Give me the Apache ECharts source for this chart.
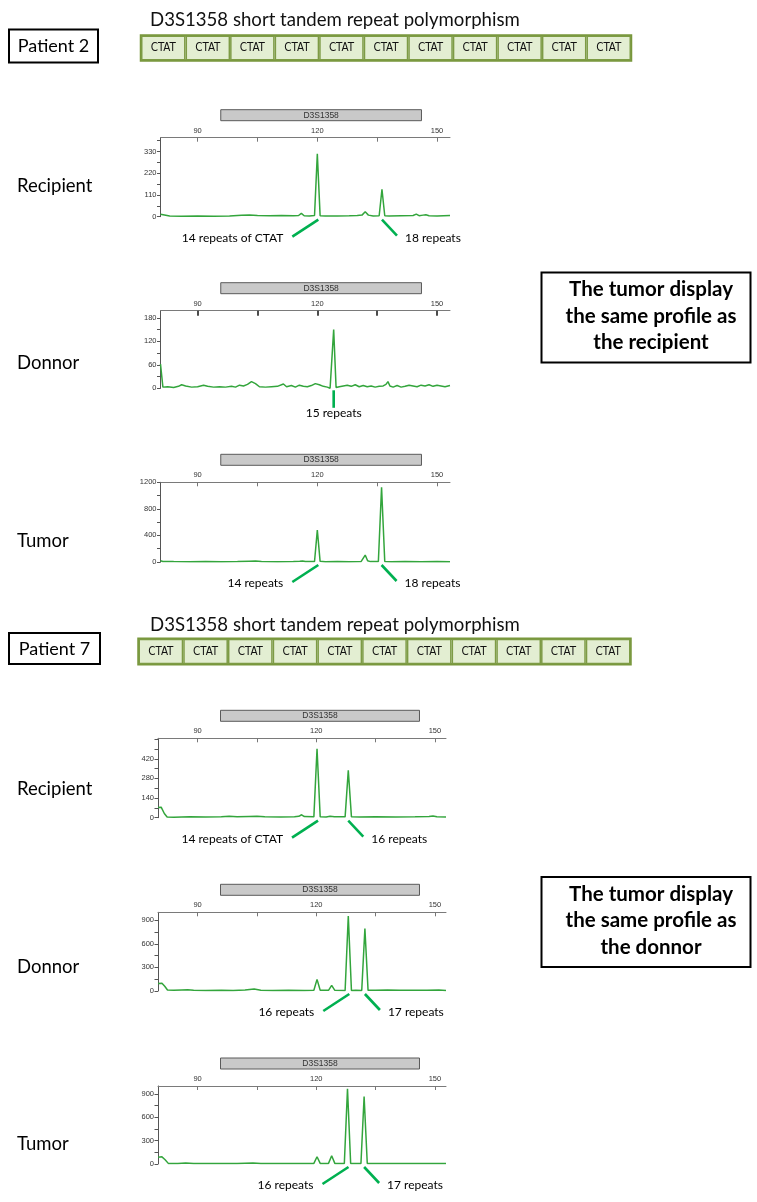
<!DOCTYPE html>
<html>
<head>
<meta charset="utf-8">
<script src="https://cdn.jsdelivr.net/npm/echarts@6/dist/echarts.min.js"></script>
<style>html,body{margin:0;padding:0;background:#fff}#c{width:757px;height:1202px}</style>
</head>
<body>
<div id="c"></div>
<script>
// ---------------- DATA ----------------
const figureTitle = 'D3S1358 short tandem repeat polymorphism';
const patientNames = ['Patient 2', 'Patient 7'];
const sampleNames = ['Recipient', 'Donnor', 'Tumor'];
const repeatUnits = ['CTAT','CTAT','CTAT','CTAT','CTAT','CTAT','CTAT','CTAT','CTAT','CTAT','CTAT'];
const repeatBoxValues = [1,1,1,1,1,1,1,1,1,1,1];
const markerName = 'D3S1358';
const markerRange = [95.8, 146.1];
const sizeLabelTicks = [90, 120, 150];
const sizeAllTicks = [90, 105, 120, 135, 150];
const p2SizeRange = [80.7, 153.25];
const p7SizeRange = [80.0, 152.8];
const conclusionP2 = ['The tumor display', 'the same profile as', 'the recipient'];
const conclusionP7 = ['The tumor display', 'the same profile as', 'the donnor'];

// traces: [size (bp), RFU]
const p2Recipient = [[80.7,12],[81.2,4],[83,3],[86,2],[90,3],[94,2],[98,4],[101,7],[103,9],[105,6],[108,5],[111,6],[114,5],[115.3,6],[116,17],[116.7,5],[118,4],[119.3,6],[120,318],[120.7,5],[122,3],[125,4],[128,5],[130,6],[131.2,8],[132,25],[132.8,8],[134,4],[135.5,5],[136.2,139],[136.9,5],[138,4],[141,5],[144,6],[144.8,13],[145.5,5],[146.5,8],[147.2,10],[148,5],[150,4],[153.25,6]];
const p2Donor = [[80.7,62],[81.3,3],[82.5,4],[84,2],[85.2,5],[86,9],[87,6],[88.5,3],[90,4],[91.5,8],[92.5,5],[94,3],[95.5,4],[97,3],[98.5,5],[99.5,3],[100.5,8],[101.5,6],[102.5,10],[103.5,17],[104.5,12],[105.5,4],[107,3],[108.5,4],[110,5],[111.5,11],[112.3,4],[113.5,7],[114.5,3],[115.5,8],[116.5,5],[117.5,4],[118.5,7],[119.5,12],[120.5,9],[121.5,5],[122.5,3],[123.2,0],[123.6,2],[124.1,150],[124.7,2],[125.5,4],[126.5,6],[127.5,8],[128.5,5],[129.5,9],[130.5,4],[131.5,7],[132.5,4],[133.5,6],[134.5,3],[135.5,5],[136.5,6],[137.2,10],[137.7,17],[138.2,6],[139,3],[140,7],[141,3],[142,5],[143,8],[144,6],[145,4],[146,8],[147,6],[148,9],[149,5],[150,8],[151,6],[152,4],[153.25,7]];
const p2Tumor = [[80.7,20],[81.3,8],[84,6],[88,5],[92,6],[96,5],[100,6],[103,12],[104.5,14],[106,6],[110,5],[114,6],[115.6,10],[116.3,14],[117,6],[119.3,8],[120,482],[120.7,10],[122,5],[125,6],[128,5],[131,8],[131.5,30],[132,105],[132.6,20],[133.3,6],[135.3,8],[136.1,1125],[136.9,8],[138.5,5],[142,6],[146,5],[150,6],[153.25,5]];
const p7Recipient = [[80,72],[80.8,75],[81.6,30],[82.3,5],[84,4],[88,6],[92,5],[96,7],[98,10],[100,6],[103,9],[105,11],[107,6],[111,5],[114.5,6],[115.6,10],[116.3,21],[117,8],[119.4,6],[120.2,491],[121,6],[122.5,5],[123.5,10],[124,16],[124.6,6],[127.3,6],[128.1,337],[128.9,6],[131,5],[135,6],[140,5],[145,6],[148.5,8],[149.5,12],[150.5,6],[152.8,5]];
const p7Donor = [[80,95],[81,100],[81.7,60],[82.4,12],[84,8],[86,14],[87.5,15],[89,8],[92,7],[96,9],[99,6],[102,12],[104.3,25],[106,10],[109,7],[113,8],[117,6],[119.4,10],[120.2,148],[121,10],[123.1,8],[123.9,72],[124.7,8],[127.3,6],[128.1,951],[128.9,6],[130,10],[131.5,6],[132.3,794],[133.1,8],[135,10],[138,12],[141,8],[144,10],[148,8],[151,12],[152.8,7]];
const p7Tumor = [[80,88],[81,92],[81.8,55],[82.6,8],[85,8],[87,12],[89,7],[93,6],[97,8],[100,6],[104,12],[106,6],[110,7],[115,6],[119.4,8],[120.2,93],[121,8],[123.1,8],[123.9,106],[124.7,8],[127.1,6],[127.9,964],[128.7,6],[131.3,6],[132.1,866],[132.9,6],[136,7],[140,6],[144,8],[148,6],[152.8,7]];

// y axis: max, labelled ticks, all ticks
const p2RecipientY = {max: 400, labels: [0,110,220,330], ticks: [0,55,110,165,220,275,330,385]};
const p2DonorY = {max: 198, labels: [0,60,120,180], ticks: [0,30,60,90,120,150,180]};
const p2TumorY = {max: 1200, labels: [0,400,800,1200], ticks: [0,200,400,600,800,1000,1200]};
const p7RecipientY = {max: 566, labels: [0,140,280,420], ticks: [0,70,140,210,280,350,420,490,560]};
const p7DonorY = {max: 1000, labels: [0,300,600,900], ticks: [0,150,300,450,600,750,900]};
const p7TumorY = {max: 1000, labels: [0,300,600,900], ticks: [0,150,300,450,600,750,900]};

// annotations: [size, side, text]
const p2RecipientNotes = [[120,'left','14 repeats of CTAT'],[136.2,'right','18 repeats']];
const p2DonorNotes = [[124.1,'down','15 repeats']];
const p2TumorNotes = [[120,'left','14 repeats'],[136.1,'right','18 repeats']];
const p7RecipientNotes = [[120.2,'left','14 repeats of CTAT'],[128.1,'right','16 repeats']];
const p7DonorNotes = [[128.1,'left','16 repeats'],[132.3,'right','17 repeats']];
const p7TumorNotes = [[127.9,'left','16 repeats'],[132.1,'right','17 repeats']];

// ---------------- LAYOUT ----------------
const panels = [
  {trace: p2Recipient, y: p2RecipientY, notes: p2RecipientNotes, range: p2SizeRange, grid: {left:160.5, top:137.7, width:289.5, height:79}},
  {trace: p2Donor, y: p2DonorY, notes: p2DonorNotes, range: p2SizeRange, grid: {left:160.5, top:310.7, width:289.5, height:77.6}, darkTicks: true},
  {trace: p2Tumor, y: p2TumorY, notes: p2TumorNotes, range: p2SizeRange, grid: {left:160.5, top:482.3, width:289.5, height:79.7}},
  {trace: p7Recipient, y: p7RecipientY, notes: p7RecipientNotes, range: p7SizeRange, grid: {left:158, top:738.3, width:288, height:79.4}},
  {trace: p7Donor, y: p7DonorY, notes: p7DonorNotes, range: p7SizeRange, grid: {left:158, top:912.3, width:288, height:78.7}},
  {trace: p7Tumor, y: p7TumorY, notes: p7TumorNotes, range: p7SizeRange, grid: {left:158, top:1086, width:288, height:78}}
];
const repeatGrids = [
  {left:141, top:35.5, width:490, height:25},
  {left:138.5, top:638.8, width:492, height:25.5}
];
const sampleLabelY = [186, 363, 541, 789, 967, 1144];

const TXT = 'Lato, "Open Sans", sans-serif';
const SMALL = '"Liberation Sans", Arial, sans-serif';
const noteGreen = '#00b050';
const traceGreen = '#33a53c';

const grids = [], xAxes = [], yAxes = [], series = [];

function markerRenderer(params, api) {
  const x1 = api.coord([markerRange[0], 0])[0];
  const x2 = api.coord([markerRange[1], 0])[0];
  const top = params.coordSys.y;
  return {type: 'group', children: [
    {type: 'rect', shape: {x: x1, y: top - 28, width: x2 - x1, height: 11},
     style: {fill: '#c9c9c9', stroke: '#5a5a5a', lineWidth: 1}},
    {type: 'text', style: {text: markerName, x: (x1 + x2) / 2, y: top - 22.3, align: 'center', verticalAlign: 'middle',
      font: '8.5px ' + SMALL, fill: '#333'}}
  ]};
}
function noteRenderer(notes) {
  return function (params, api) {
    const n = notes[params.dataIndex];
    const p = api.coord([api.value(0), 0]);
    const x = p[0], y = p[1];
    let x0 = x, y0 = y + 3, x1, y1, tx, ty, align;
    if (n[1] === 'left') { x0 = x + 1; x1 = x - 25; y1 = y + 20; tx = x1 - 9; ty = y + 21.5; align = 'right'; }
    else if (n[1] === 'right') { x1 = x + 15; y1 = y + 19; tx = x1 + 8; ty = y + 21.5; align = 'left'; }
    else { y0 = y + 2; x1 = x; y1 = y + 19.5; tx = x; ty = y + 25; align = 'center'; }
    return {type: 'group', children: [
      {type: 'line', shape: {x1: x0, y1: y0, x2: x1, y2: y1}, style: {stroke: noteGreen, lineWidth: 2.6}},
      {type: 'text', style: {text: n[2], x: tx, y: ty, align: align, verticalAlign: 'middle', font: '12px ' + TXT, fill: '#000'}}
    ]};
  };
}

panels.forEach(function (pn, i) {
  grids.push(Object.assign({containLabel: false}, pn.grid));
  xAxes.push({
    type: 'value', gridIndex: i, position: 'top', min: pn.range[0], max: pn.range[1],
    axisLine: {show: true, onZero: false, lineStyle: {color: '#7a7a7a', width: 1}},
    axisTick: {show: true, inside: true, length: pn.darkTicks ? 5 : 4, customValues: sizeAllTicks,
      lineStyle: {color: pn.darkTicks ? '#111' : '#777', width: pn.darkTicks ? 1.5 : 1}},
    axisLabel: {customValues: sizeLabelTicks, fontSize: 7.5, fontFamily: SMALL, color: '#333', margin: 3},
    splitLine: {show: false}
  });
  yAxes.push({
    type: 'value', gridIndex: i, min: 0, max: pn.y.max,
    axisLine: {show: true, onZero: false, lineStyle: {color: '#555', width: 1}},
    axisTick: {show: true, length: 3.5, customValues: pn.y.ticks, lineStyle: {color: '#555'}},
    axisLabel: {customValues: pn.y.labels, fontSize: 7.5, fontFamily: SMALL, color: '#333', margin: 4,
      formatter: function (v) { return String(v); }},
    splitLine: {show: false}
  });
  series.push({
    type: 'line', xAxisIndex: i, yAxisIndex: i, data: pn.trace, showSymbol: false, symbol: 'none',
    lineStyle: {color: traceGreen, width: 1.5}, z: 3, animation: false
  });
  series.push({
    type: 'custom', xAxisIndex: i, yAxisIndex: i, clip: false, data: [[markerRange[0], 0]],
    renderItem: markerRenderer, silent: true, animation: false
  });
  series.push({
    type: 'custom', xAxisIndex: i, yAxisIndex: i, clip: false,
    data: pn.notes.map(function (n) { return [n[0], 0]; }), encode: {x: 0, y: 1},
    renderItem: noteRenderer(pn.notes), silent: true, animation: false
  });
});

repeatGrids.forEach(function (g, k) {
  const gi = grids.length;
  grids.push(Object.assign({show: true, borderColor: '#78973b', borderWidth: 2.5, backgroundColor: 'transparent'}, g));
  xAxes.push({type: 'category', gridIndex: gi, data: repeatUnits, show: false, boundaryGap: true});
  yAxes.push({type: 'value', gridIndex: gi, min: 0, max: 1, show: false});
  series.push({
    type: 'bar', xAxisIndex: gi, yAxisIndex: gi, data: repeatBoxValues, barCategoryGap: '0%', barWidth: '100%',
    itemStyle: {color: '#e3eed2', borderColor: '#7d9b45', borderWidth: 1.5},
    label: {show: true, position: 'inside', formatter: '{b}', fontSize: 11.5, fontFamily: '"Liberation Sans Narrow", "DejaVu Sans Condensed", sans-serif', color: '#111'},
    animation: false, silent: true
  });
});

const graphic = [];
function addTitle(y) {
  graphic.push({type: 'text', x: 150, y: y, style: {text: figureTitle, font: '18.6px ' + TXT, fill: '#111', align: 'left', verticalAlign: 'middle'}});
}
function addPatientBox(x, y, w, h, name) {
  graphic.push({type: 'rect', shape: {x: x, y: y, width: w, height: h}, style: {fill: '#fff', stroke: '#000', lineWidth: 2}});
  graphic.push({type: 'text', x: x + w / 2, y: y + h / 2 + 0.5, style: {text: name, font: '18px ' + TXT, fill: '#000', align: 'center', verticalAlign: 'middle'}});
}
function addConclusion(y, lines) {
  graphic.push({type: 'rect', shape: {x: 541.5, y: y, width: 209, height: 90}, style: {fill: '#fff', stroke: '#000', lineWidth: 2}});
  lines.forEach(function (t, j) {
    graphic.push({type: 'text', x: 651, y: y + 17 + j * 26.5, style: {text: t, font: 'bold 20.5px ' + TXT, fill: '#000', align: 'center', verticalAlign: 'middle'}});
  });
}
addTitle(20);
addTitle(625);
addPatientBox(9, 29.5, 89, 33, patientNames[0]);
addPatientBox(9, 633, 91, 31, patientNames[1]);
sampleLabelY.forEach(function (y, k) {
  graphic.push({type: 'text', x: 17, y: y, style: {text: sampleNames[k % 3], font: '18.5px ' + TXT, fill: '#000', align: 'left', verticalAlign: 'middle'}});
});
addConclusion(272.5, conclusionP2);
addConclusion(877, conclusionP7);

const chart = echarts.init(document.getElementById('c'), null, {renderer: 'canvas'});
chart.setOption({
  backgroundColor: '#fff',
  animation: false,
  grid: grids, xAxis: xAxes, yAxis: yAxes, series: series, graphic: graphic
});
</script>
</body>
</html>
